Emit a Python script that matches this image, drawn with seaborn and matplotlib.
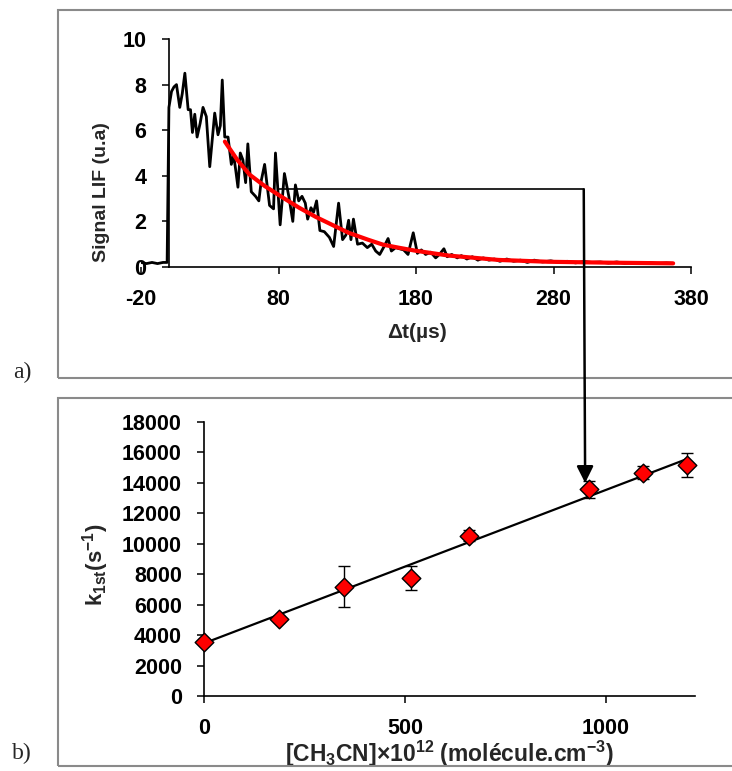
import matplotlib
matplotlib.use("Agg")
import matplotlib.pyplot as plt
import seaborn as sns
import pandas as pd
from matplotlib.patches import Rectangle, ConnectionPatch, ArrowStyle

# ---------------- data ----------------
# a) LIF decay trace
trace_t = [-20, -16, -12, -8, -4, -1, 0.3, 2.2, 4, 5.8, 8.2, 10, 11.9, 14.3, 16, 17.4,
           19.1, 20.8, 23, 25.1, 27.5, 30, 33.6, 36, 37.7, 39.1, 40.9, 43.3, 45.7,
           47.4, 49, 50.5, 52.2, 54.1, 56.1, 57.7, 60.2, 63.3, 65.7, 67.5, 69.9, 73.5,
           76.4, 77.8, 81.2, 84.3, 87.5, 90.4, 92.3, 94.7, 97.1, 99.5, 101.2, 103.6,
           105.5, 107.7, 110.1, 113.3, 117, 120.1, 123.7, 126.6, 129, 131, 132.7,
           134.5, 137.5, 141, 144.6, 147.8, 150.7, 153.6, 156.8, 159.7, 162.1, 165.2,
           168, 171, 174.2, 178, 181, 183.9, 187, 190.7, 194.3, 197, 200.3, 202.7,
           206, 210, 213, 217, 221, 225, 229, 233, 237, 241, 246, 251, 256, 261, 266,
           272, 278, 284, 290, 296, 302, 308, 314, 320, 326, 332, 338, 344, 350, 356,
           362, 367]
trace_s = [0.2, 0.15, 0.2, 0.15, 0.2, 0.2, 7.0, 7.7, 7.9, 8.0, 7.0, 7.6, 8.5, 6.9, 6.9, 5.9,
           6.7, 5.7, 6.3, 7.0, 6.6, 4.4, 6.75, 5.8, 6.2, 8.2, 5.7, 5.7, 4.5,
           4.9, 4.2, 3.5, 5.0, 4.7, 3.7, 5.4, 3.3, 3.1, 2.9, 3.8, 4.5, 2.7,
           2.55, 5.0, 1.85, 4.1, 3.1, 2.0, 3.6, 2.9, 3.1, 2.8, 2.1, 2.6,
           2.4, 2.9, 1.6, 1.55, 1.3, 0.9, 2.8, 1.2, 1.4, 2.05, 1.2,
           2.1, 1.0, 1.05, 0.85, 1.0, 0.7, 0.55, 0.9, 1.25, 0.7, 0.85,
           0.8, 0.75, 0.55, 1.5, 0.6, 0.75, 0.55, 0.65, 0.4, 0.55, 0.8, 0.45,
           0.55, 0.4, 0.5, 0.35, 0.45, 0.3, 0.4, 0.3, 0.35, 0.25, 0.35, 0.25, 0.3, 0.2, 0.3,
           0.22, 0.27, 0.2, 0.25, 0.18, 0.24, 0.2, 0.22, 0.17, 0.22, 0.16, 0.2, 0.15, 0.19, 0.15,
           0.18, 0.16]
# exponential fit (red)
fit_t = [41, 50, 59, 70, 83, 95, 107, 120, 131, 145, 156, 168, 180, 204, 240, 276, 320, 367]
fit_s = [5.5, 4.7, 4.05, 3.55, 3.05, 2.6, 2.2, 1.82, 1.5, 1.2, 0.98, 0.84, 0.71, 0.5, 0.31,
         0.23, 0.19, 0.16]

# b) pseudo-first-order rate constants
conc = [0, 187, 347, 514, 658, 958, 1091, 1201]
k1st = [3560, 5050, 7170, 7760, 10520, 13560, 14650, 15160]
k_err = [150, 200, 1350, 800, 370, 550, 440, 800]
line_x = [0, 1201]
line_y = [3460, 15550]

ticks_a_x = [-20, 80, 180, 280, 380]
ticks_a_y = [0, 2, 4, 6, 8, 10]
ticks_b_x = [0, 500, 1000]
ticks_b_y = list(range(0, 18001, 2000))

# ---------------- style ----------------
sns.set_theme(style="white")
plt.rcParams['font.family'] = ['Liberation Sans', 'DejaVu Sans']
plt.rcParams['font.weight'] = 'bold'
plt.rcParams['axes.unicode_minus'] = False
plt.rcParams['mathtext.fontset'] = 'custom'
plt.rcParams['mathtext.rm'] = 'Liberation Sans:bold'
plt.rcParams['mathtext.bf'] = 'Liberation Sans:bold'
plt.rcParams['mathtext.it'] = 'Liberation Sans:bold'
plt.rcParams['mathtext.default'] = 'bf'

W, H = 732, 771
fig = plt.figure(figsize=(W / 100, H / 100), dpi=100)

# frames
for (x0, y0, x1, y1) in [(58, 10, 745, 378), (58, 398, 745, 766)]:
    fig.add_artist(Rectangle((x0 / W, 1 - y1 / H), (x1 - x0) / W, (y1 - y0) / H,
                             transform=fig.transFigure, fill=False,
                             edgecolor='#8a8a8a', lw=1.5))

ax1 = fig.add_axes([141 / W, 1 - 267 / H, 550 / W, 228 / H])
ax2 = fig.add_axes([204 / W, 1 - 696 / H, 490.5 / W, 274.3 / H])

# ---------------- panel a ----------------
df_tr = pd.DataFrame({"t": trace_t, "s": trace_s})
df_fit = pd.DataFrame({"t": fit_t, "s": fit_s})
sns.lineplot(data=df_tr, x="t", y="s", ax=ax1, color="black", lw=2.0, sort=False,
             estimator=None, zorder=2)
sns.lineplot(data=df_fit, x="t", y="s", ax=ax1, color="#ff0000", lw=3.0, sort=False,
             estimator=None, zorder=3)
ax1.set_xlim(-20, 380)
ax1.set_ylim(0, 10)
ax1.set_xticks(ticks_a_x)
ax1.set_yticks(ticks_a_y)
for s in ["top", "right"]:
    ax1.spines[s].set_visible(False)
ax1.spines["left"].set_position(("data", 0))
ax1.spines["bottom"].set_bounds(0, 380)
ax1.xaxis.get_major_ticks()[0].tick1line.set_visible(False)
ax1.set_xlabel("Δt(µs)", fontsize=15, fontweight="bold")
ax1.set_ylabel("Signal LIF (u.a)", fontsize=14, fontweight="bold")
ax1.xaxis.set_label_coords(0.502, -0.245)
ax1.yaxis.set_label_coords(-0.057, 0.33)

# ---------------- panel b ----------------
df_k = pd.DataFrame({"c": conc, "k": k1st})
df_line = pd.DataFrame({"c": line_x, "k": line_y})
sns.lineplot(data=df_line, x="c", y="k", ax=ax2, color="black", lw=1.6, zorder=2)
ax2.errorbar(conc, k1st, yerr=k_err, fmt="none", ecolor="black", elinewidth=1.0,
             capsize=4, capthick=1.0, zorder=3, clip_on=False)
sns.scatterplot(data=df_k, x="c", y="k", ax=ax2, marker="D", s=90, color="#ff0000",
                edgecolor="black", linewidth=1.0, zorder=4, clip_on=False)
ax2.set_xlim(0, 1220)
ax2.set_ylim(0, 18000)
ax2.set_xticks(ticks_b_x)
ax2.set_yticks(ticks_b_y)
for s in ["top", "right"]:
    ax2.spines[s].set_visible(False)
ax2.set_xlabel(r"[CH$_3$CN]×10$^{12}$ (molécule.cm$^{-3}$)", fontsize=16.5,
               fontweight="bold")
ax2.set_ylabel(r"k$_{1st}$(s$^{-1}$)", fontsize=16, fontweight="bold")
ax2.xaxis.set_label_coords(0.5, -0.155)
ax2.yaxis.set_label_coords(-0.19, 0.478)

for ax in (ax1, ax2):
    for s in ["left", "bottom"]:
        ax.spines[s].set_color("black")
        ax.spines[s].set_linewidth(1.2)
    ax.tick_params(axis="both", which="major", direction="out", length=5, width=1.1,
                   color="black", labelsize=15.5, labelcolor="black")
    ax.tick_params(axis="x", pad=11, bottom=True)
    ax.tick_params(axis="y", pad=11, left=True)
    for lab in ax.get_xticklabels() + ax.get_yticklabels():
        lab.set_fontweight("bold")
    ax.grid(False)
    ax.set_facecolor("none")

# ---------------- connector from panel a to panel b ----------------
ax1.plot([80.7, 302], [3.4, 3.4], color="black", lw=1.2, zorder=1)
con = ConnectionPatch(xyA=(302, 3.4), coordsA=ax1.transData,
                      xyB=(948, 13980), coordsB=ax2.transData,
                      arrowstyle=ArrowStyle("-|>", head_length=0.5, head_width=0.25),
                      mutation_scale=20, shrinkA=0, shrinkB=0,
                      color="black", lw=1.8)
fig.add_artist(con)

fig.text(22 / W, 1 - 372 / H, "a)", family="Liberation Serif", fontweight="normal",
         fontsize=17, ha="center", va="center")
fig.text(22 / W, 1 - 753 / H, "b)", family="Liberation Serif", fontweight="normal",
         fontsize=17, ha="center", va="center")

fig.savefig("out.png", dpi=100, facecolor="white")
